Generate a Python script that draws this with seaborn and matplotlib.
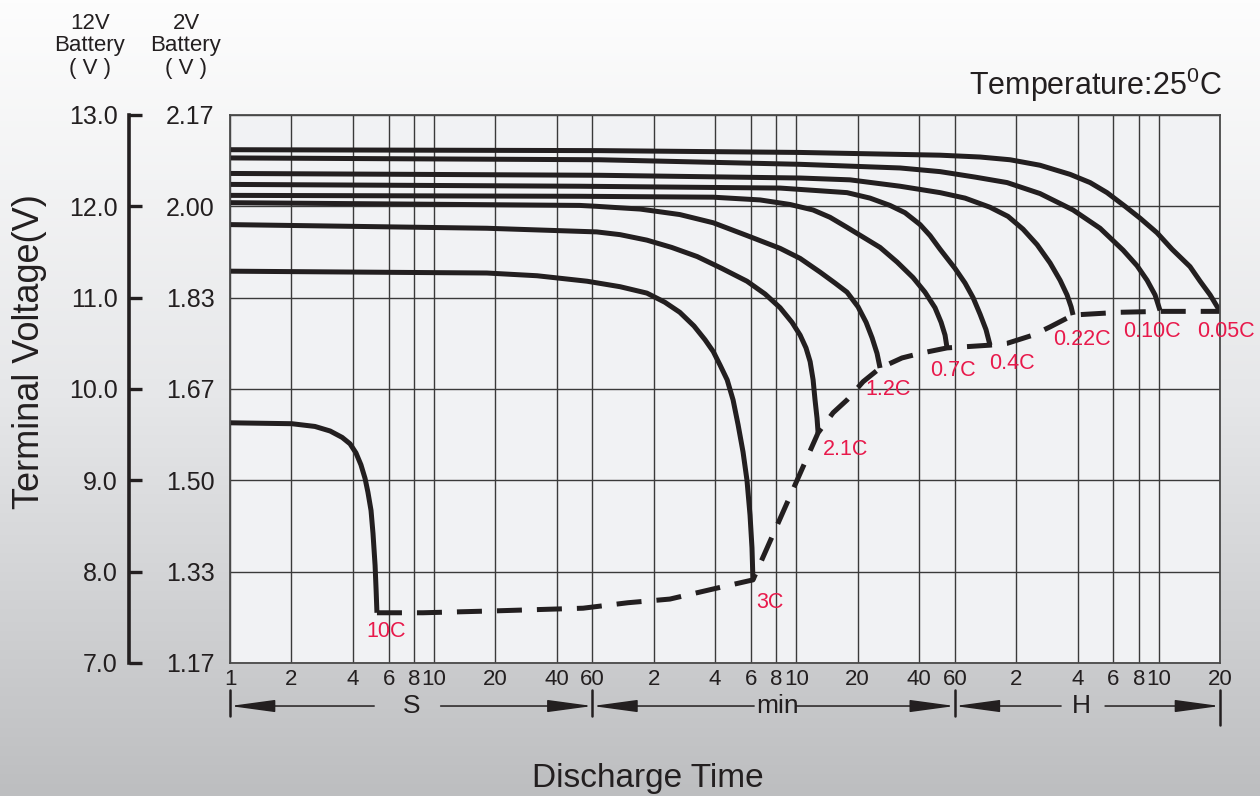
import numpy as np
import pandas as pd
import matplotlib
matplotlib.use("Agg")
import matplotlib.pyplot as plt
import matplotlib.transforms as mtransforms
from matplotlib.colors import LinearSegmentedColormap
from matplotlib.ticker import NullLocator
import seaborn as sns

# ---------------- data ----------------
rates = ["10C", "3C", "2.1C", "1.2C", "0.7C", "0.4C", "0.22C", "0.10C", "0.05C"]

# discharge time in seconds, terminal voltage of the 12V battery
t_10C = [1, 2.01, 2.61, 3.10, 3.55, 3.88, 4.15, 4.39, 4.60, 4.75, 4.92, 5.03, 5.15, 5.21, 5.26]
v_10C = [9.63, 9.62, 9.59, 9.54, 9.47, 9.40, 9.30, 9.17, 9.02, 8.87, 8.67, 8.42, 8.07, 7.80, 7.55]

t_3C = [1, 18.2, 32.1, 56.5, 82, 111, 136, 161, 189, 214, 235, 254, 275, 294, 311, 329,
        344, 356, 364, 368]
v_3C = [11.29, 11.27, 11.24, 11.18, 11.12, 11.05, 10.95, 10.84, 10.69, 10.54, 10.41, 10.26,
        10.10, 9.88, 9.61, 9.31, 9.00, 8.62, 8.26, 7.91]

t_2_1C = [1, 18.2, 63, 82, 111, 147, 196, 259, 344, 422, 500, 572, 627, 670, 702, 726, 742,
          759, 768]
v_2_1C = [11.80, 11.76, 11.72, 11.69, 11.63, 11.55, 11.45, 11.32, 11.18, 11.04, 10.89, 10.73,
          10.59, 10.45, 10.30, 10.10, 9.88, 9.68, 9.52]

t_1_2C = [1, 52, 63, 103, 161, 235, 344, 500, 627, 785, 930, 1065, 1206, 1321, 1414, 1495, 1547]
v_1_2C = [12.04, 12.01, 12.00, 11.97, 11.91, 11.82, 11.68, 11.54, 11.43, 11.28, 11.16, 11.06,
          10.90, 10.73, 10.56, 10.39, 10.23]

t_0_7C = [1, 52, 235, 399, 560, 726, 879, 1065, 1306, 1547, 1875, 2245, 2570, 2878, 3083,
          3223, 3297]
v_0_7C = [12.12, 12.11, 12.10, 12.07, 12.02, 11.96, 11.88, 11.77, 11.65, 11.55, 11.39, 11.22,
          11.06, 10.89, 10.73, 10.59, 10.45]

t_0_4C = [1, 52, 500, 1065, 1381, 1731, 2051, 2431, 2721, 3048, 3608, 4040, 4425, 4786,
          5120, 5357]
v_0_4C = [12.24, 12.22, 12.20, 12.15, 12.09, 12.01, 11.93, 11.80, 11.68, 11.53, 11.32, 11.16,
          11.00, 10.82, 10.65, 10.48]

t_0_22C = [1, 65, 627, 1102, 1940, 3048, 4040, 5357, 6565, 7780, 9120, 10560, 11830, 12790,
           13390, 13690]
v_0_22C = [12.36, 12.34, 12.31, 12.29, 12.22, 12.15, 12.09, 11.99, 11.89, 11.75, 11.58, 11.38,
           11.19, 11.03, 10.90, 10.81]

t_0_10C = [1, 65, 627, 1940, 3048, 4530, 6500, 9420, 13690, 18570, 24100, 28200, 31600,
           34570, 36560]
v_0_10C = [12.53, 12.51, 12.46, 12.42, 12.38, 12.32, 12.26, 12.14, 11.96, 11.76, 11.52, 11.35,
           11.19, 11.03, 10.86]

t_0_05C = [1, 65, 627, 3048, 4786, 6716, 9420, 13240, 16600, 20090, 24640, 29200, 35360,
           41900, 51300, 57500, 64400, 72000]
v_0_05C = [12.62, 12.61, 12.59, 12.56, 12.54, 12.51, 12.45, 12.35, 12.26, 12.15, 12.00, 11.87,
           11.71, 11.53, 11.34, 11.18, 11.03, 10.85]

# end-of-discharge voltage (dashed)
end_t = [5.26, 8.85, 19.5, 54, 89.7, 144, 245, 368, 768, 910, 1065, 1277, 1547, 1982, 2431,
         3297, 5357, 6500, 8710, 10560, 13690, 23280, 36560, 72000]
end_v = [7.55, 7.55, 7.57, 7.60, 7.66, 7.70, 7.82, 7.91, 9.52, 9.74, 9.88, 10.08, 10.23, 10.34,
         10.39, 10.45, 10.48, 10.50, 10.59, 10.68, 10.81, 10.84, 10.85, 10.85]

x_tick_times = [1, 2, 4, 6, 8, 10, 20, 40, 60,
                120, 240, 360, 480, 600, 1200, 2400, 3600,
                7200, 14400, 21600, 28800, 36000, 72000]
x_tick_labels = ["1", "2", "4", "6", "8", "10", "20", "40", "60",
                 "2", "4", "6", "8", "10", "20", "40", "60",
                 "2", "4", "6", "8", "10", "20"]
y_ticks_12v = [7, 8, 9, 10, 11, 12, 13]
y_labels_12v = ["7.0", "8.0", "9.0", "10.0", "11.0", "12.0", "13.0"]
y_labels_2v = ["1.17", "1.33", "1.50", "1.67", "1.83", "2.00", "2.17"]

curve_t = [t_10C, t_3C, t_2_1C, t_1_2C, t_0_7C, t_0_4C, t_0_22C, t_0_10C, t_0_05C]
curve_v = [v_10C, v_3C, v_2_1C, v_1_2C, v_0_7C, v_0_4C, v_0_22C, v_0_10C, v_0_05C]

# label offsets from curve end (pixels) -- style
label_offsets = [(9, -19), (17, -23), (27, -17), (8, -22), (6, -23), (22, -18),
                 (9, -24), (-8, -21), (6, -20)]

# ---------------- style ----------------
sns.set_theme(style="white")
plt.rcParams["font.family"] = ["Liberation Sans", "DejaVu Sans"]
plt.rcParams["mathtext.default"] = "regular"

INK = "#231f20"
RED = "#e8194b"

fig = plt.figure(figsize=(12.6, 7.96), dpi=100)

bg = fig.add_axes([0, 0, 1, 1], zorder=-10)
grad = np.linspace(0, 1, 256).reshape(-1, 1)
cmap = LinearSegmentedColormap.from_list("bg", ["#fdfdfd", "#e6e7e9", "#bdbec0"])
bg.imshow(grad, aspect="auto", cmap=cmap, extent=[0, 1, 0, 1], origin="upper")
bg.axis("off")

ax = fig.add_axes([230 / 1260, 1 - 663 / 796, 990 / 1260, 548 / 796])
ax.set_facecolor("#f1f2f4")
ax.set_xscale("log")

df = pd.concat([pd.DataFrame({"time": t, "voltage": v, "rate": r})
                for r, t, v in zip(rates, curve_t, curve_v)], ignore_index=True)

sns.lineplot(data=df, x="time", y="voltage", hue="rate",
             palette={r: INK for r in rates}, estimator=None, sort=False,
             legend=False, lw=3.6, ax=ax, solid_joinstyle="round", solid_capstyle="butt")

sns.lineplot(x=end_t, y=end_v, estimator=None, sort=False, color=INK, lw=3.6, ax=ax,
             linestyle=(0, (5, 3)))

for r, t, v, off in zip(rates, curve_t, curve_v, label_offsets):
    ax.annotate(r, xy=(t[-1], v[-1]), xytext=off, textcoords="offset pixels",
                ha="center", va="center", color=RED, fontsize=15.5, annotation_clip=False)

ax.set_xlim(1, 72000)
ax.set_ylim(7, 13)
ax.set_xticks(x_tick_times)
ax.set_xticklabels(x_tick_labels)
ax.xaxis.set_minor_locator(NullLocator())
ax.set_yticks(y_ticks_12v)
ax.set_yticklabels(y_labels_2v)
ax.tick_params(axis="x", length=0, pad=4, labelsize=16, labelcolor=INK)
ax.tick_params(axis="y", length=0, pad=11, labelsize=18, labelcolor=INK)
ax.grid(True, color="#3a3a3a", lw=1.0)
ax.set_xlabel("")
ax.set_ylabel("")
for s in ax.spines.values():
    s.set_color("#4a4a4a")
    s.set_linewidth(1.3)

sec = ax.secondary_yaxis(-0.102)
sec.set_yticks(y_ticks_12v)
sec.set_yticklabels(y_labels_12v)
sec.tick_params(direction="in", length=9, width=2.4, pad=8, labelsize=18,
                color=INK, labelcolor=INK)
sec.spines["left"].set_linewidth(2.6)
sec.spines["left"].set_color(INK)

# time-unit arrows row
trans = mtransforms.blended_transform_factory(ax.transData, ax.transAxes)
ya = -0.0785
segments = [(1, 60, 5.1, 10.8, "S", 7.8),
            (60, 3600, 373, 599, "min", 483),
            (3600, 72000, 11960, 19650, "H", 15000)]
aprops = dict(arrowstyle="-|>,head_length=2.8,head_width=0.38", mutation_scale=10,
              color=INK, lw=1.1, shrinkA=0, shrinkB=0)
for t0, t1, gl, gr, lab, tl in segments:
    ax.annotate("", xy=(t0, ya), xytext=(gl, ya), xycoords=trans, textcoords=trans,
                arrowprops=aprops, annotation_clip=False)
    ax.annotate("", xy=(t1, ya), xytext=(gr, ya), xycoords=trans, textcoords=trans,
                arrowprops=aprops, annotation_clip=False)
    ax.text(tl, ya, lab, transform=trans, ha="center", va="center", fontsize=19, color=INK)
for tb, yb in [(1, -0.097), (60, -0.097), (3600, -0.097), (72000, -0.113)]:
    ax.plot([tb, tb], [-0.05, yb], transform=trans, clip_on=False, color=INK, lw=1.8)

# texts
fig.text(90 / 1260, 1 - 46 / 796, "12V\nBattery\n( V )", ha="center", va="center",
         fontsize=16, linespacing=1.1, color=INK)
fig.text(186 / 1260, 1 - 46 / 796, "2V\nBattery\n( V )", ha="center", va="center",
         fontsize=16, linespacing=1.1, color=INK)
fig.text(1222 / 1260, 1 - 85 / 796, r"Temperature:25$^{0}$C", ha="right", va="center",
         fontsize=22, color=INK)
fig.text(30 / 1260, 1 - 352 / 796, "Terminal Voltage(V)", rotation=90, ha="center",
         va="center", fontsize=26, color=INK)
fig.text(648 / 1260, 1 - 778 / 796, "Discharge Time", ha="center", va="center",
         fontsize=24, color=INK)

fig.savefig("out.png", dpi=100)
